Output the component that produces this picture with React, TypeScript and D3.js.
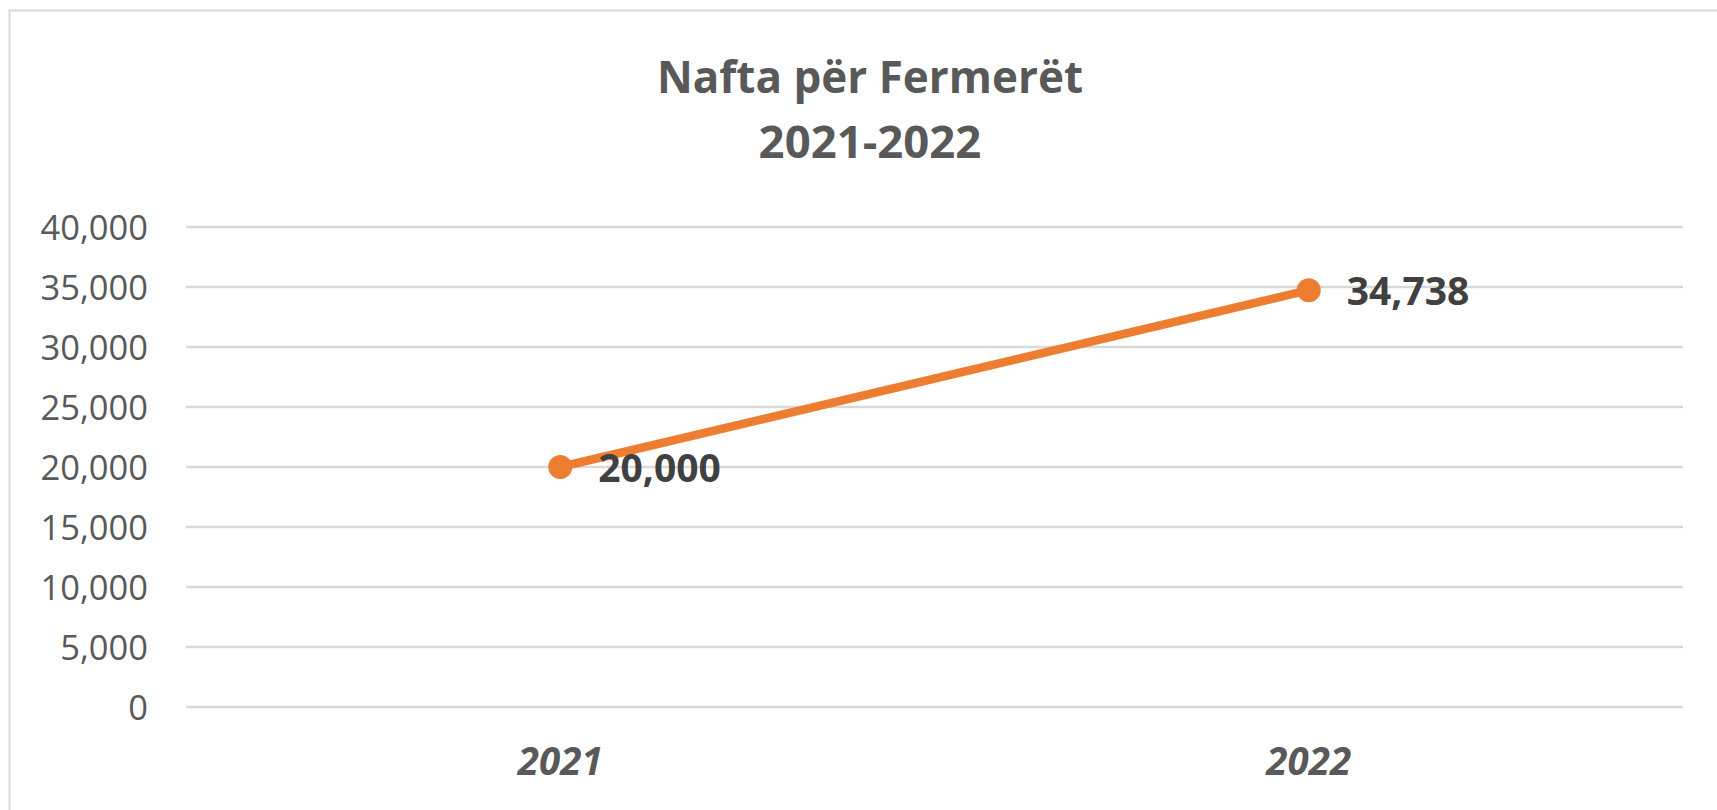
import React from "react";
import * as d3 from "d3";

const categories: string[] = ["2021", "2022"];
const values: number[] = [20000, 34738];
const yTicks: number[] = [0, 5000, 10000, 15000, 20000, 25000, 30000, 35000, 40000];
const titleLines: string[] = ["Nafta për Fermerët", "2021-2022"];

const W = 1717;
const H = 810;
const FONT = "'Open Sans', 'DejaVu Sans', sans-serif";

export default function App() {
  const x = d3.scaleBand<string>().domain(categories).range([186, 1683]).padding(0);
  const y = d3.scaleLinear().domain([0, 40000]).range([707, 227]);
  const fmt = d3.format(",");
  const px = (c: string) => (x(c) as number) + x.bandwidth() / 2;
  const line = d3
    .line<number>()
    .x((_, i) => px(categories[i]))
    .y((d) => y(d));

  return (
    <div style={{ position: "fixed", left: 0, top: 0, width: W, height: H, background: "#fff" }}>
      <svg width={W} height={H} style={{ display: "block" }} fontFamily={FONT}>
        <rect x={0} y={0} width={W} height={H} fill="#fff" />
        <rect x={9.5} y={10.5} width={W + 20} height={H + 20} fill="none" stroke="#d9d9d9" strokeWidth={2} />
        <text x={870} y={93} textAnchor="middle" fontSize={44} fontWeight={700} fill="#595959">
          {titleLines[0]}
        </text>
        <text x={870} y={158} textAnchor="middle" fontSize={45.5} fontWeight={700} fill="#595959">
          {titleLines[1]}
        </text>
        {yTicks.map((t) => (
          <g key={t}>
            <line x1={186} x2={1683} y1={y(t)} y2={y(t)} stroke="#d9d9d9" strokeWidth={2.5} />
            <text x={148} y={y(t) + 12.5} textAnchor="end" fontSize={34.5} fill="#595959">
              {fmt(t)}
            </text>
          </g>
        ))}
        {categories.map((c) => (
          <text key={c} x={px(c)} y={775} textAnchor="middle" fontSize={38.5} fontWeight={700} fontStyle="italic" fill="#595959">
            {c}
          </text>
        ))}
        <path d={line(values) as string} fill="none" stroke="#ED7D31" strokeWidth={8.5} strokeLinecap="round" />
        {values.map((v, i) => (
          <g key={i}>
            <circle cx={px(categories[i])} cy={y(v)} r={12} fill="#ED7D31" />
            <text x={px(categories[i]) + 38} y={y(v) + 15} fontSize={39} fontWeight={700} fill="#404040">
              {fmt(v)}
            </text>
          </g>
        ))}
      </svg>
    </div>
  );
}
